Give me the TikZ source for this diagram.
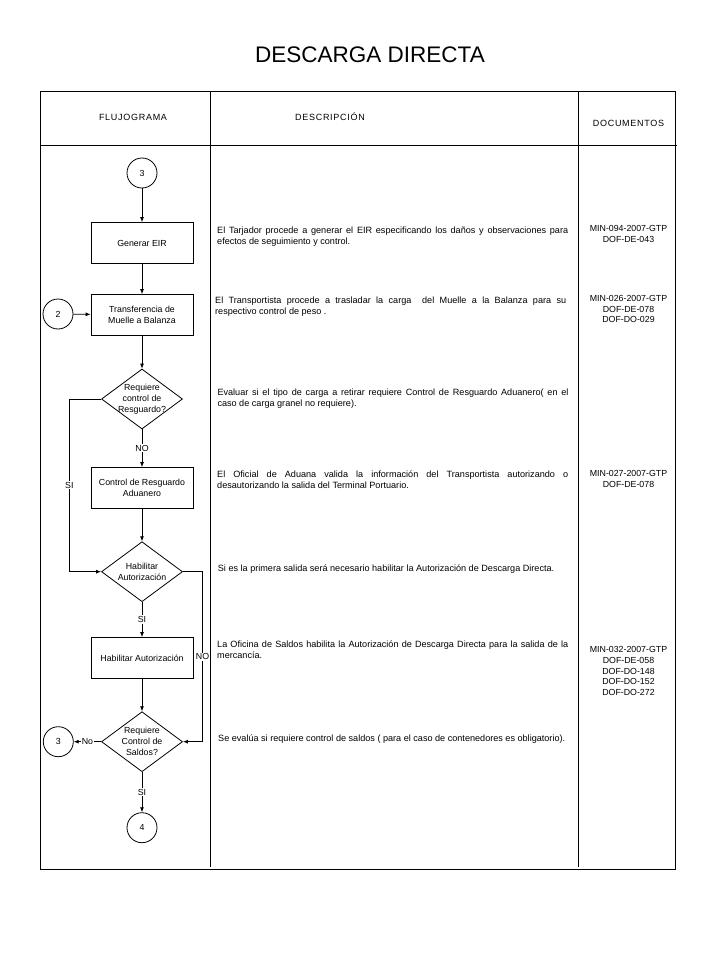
\documentclass[tikz,border=0pt]{standalone}
\usepackage{fontspec}
\setmainfont{Liberation Sans}
\newfontfamily\hdrfont[LetterSpace=8]{Liberation Sans}
\usetikzlibrary{arrows.meta,shapes.geometric}

\begin{document}
\begin{tikzpicture}[>={Latex[length=5pt,width=4pt]},x=1pt,y=-1pt,
	every node/.style={font=\fontsize{8.8}{11}\selectfont},
	proc/.style={draw,line width=0.8pt,minimum width=102pt,minimum height=41pt,
		align=center,inner sep=1pt},
	dec/.style={draw,diamond,line width=0.8pt,minimum width=81pt,
		minimum height=60pt,inner sep=0pt},
	conn/.style={draw,circle,line width=0.8pt,minimum size=30pt,inner sep=0pt},
	lbl/.style={fill=white,inner sep=1pt},
	desc/.style={anchor=west,text width=351pt,align=justify,inner sep=0pt,
		font=\fontsize{9.1}{11}\selectfont},
	descone/.style={anchor=west,inner sep=0pt,font=\fontsize{9.1}{11}\selectfont},
	docs/.style={align=center,inner sep=0pt,font=\fontsize{8.8}{10.8}\selectfont},
	hdr/.style={font=\hdrfont\fontsize{9}{11}\selectfont}]

\useasboundingbox (0,0) rectangle (720,960);

\node (titulo) at (370,55) {\fontsize{22.5}{26}\selectfont DESCARGA DIRECTA};

% tabla
\draw[line width=1pt] (40,91.3) rectangle (675,869);
\draw[line width=1pt] (40,146)--(676.7,146);
\draw[line width=1pt] (210.3,91.3)--(210.3,867);
\draw[line width=1pt] (578.3,91.3)--(578.3,867);

\node[hdr] (hflujo) at (133,117) {FLUJOGRAMA};
\node[hdr] (hdesc) at (330,117) {DESCRIPCIÓN};
\node[hdr] (hdocs) at (628.5,123) {DOCUMENTOS};

% flujograma
\node[conn] (ini) at (142,173) {3};
\node[proc] (eir) at (142,243) {Generar EIR};
\node[proc] (trans) at (142,315) {Transferencia de\\Muelle a Balanza};
\node[conn] (dos) at (58,314) {2};
\node[dec,label={[align=center]center:Requiere\\control de\\Resguardo?}]
	(resg) at (142,399) {};
\node[proc] (ctrl) at (142,488) {Control de Resguardo\\Aduanero};
\node[dec,label={[align=center]center:Habilitar\\Autorización}]
	(habd) at (142,571.7) {};
\node[proc] (hab) at (142,658) {Habilitar Autorización};
\node[dec,label={[align=center]center:Requiere\\Control de\\Saldos?}]
	(sald) at (142,741.7) {};
\node[conn] (tres) at (58.3,741.7) {3};
\node[conn] (cuatro) at (142,827.7) {4};

\begin{scope}[line width=0.8pt]
\draw[->] (ini)--(eir);
\draw[->] (eir)--(trans);
\draw[->] (dos)--(trans);
\draw[->] (trans)--(resg);
\draw[->] (resg)--node[lbl] {NO} (ctrl);
\draw[->] (resg.west)--++(-31.7,0) |- node[lbl,pos=0.25] {SI} (habd.west);
\draw[->] (ctrl)--(habd);
\draw[->] (habd)--node[lbl] {SI} (hab);
\draw[->] (habd.east)--++(19.6,0) |- node[lbl,pos=0.25] {NO} (sald.east);
\draw[->] (hab)--(sald);
\draw[->] (sald)--node[lbl] {No} (tres);
\draw[->] (sald)--node[lbl] {SI} (cuatro);
\end{scope}

% descripcion
\node[desc] (d1) at (217,236.2) {El Tarjador procede a generar el EIR especificando
	los daños y observaciones para\linebreak efectos de seguimiento y control.};
\node[desc] (d2) at (215,306.7) {El Transportista procede a trasladar la carga \ del
	Muelle a la Balanza para su\linebreak respectivo control de peso .};
\node[desc] (d3) at (217.3,398.7) {Evaluar si el tipo de carga a retirar requiere
	Control de Resguardo Aduanero( en el\linebreak caso de carga granel no requiere).};
\node[desc] (d4) at (217,479.2) {El Oficial de Aduana valida la información del
	Transportista autorizando o\linebreak desautorizando la salida del Terminal Portuario.};
\node[descone] (d5) at (217.7,569) {Si es la primera salida será necesario habilitar
	la Autorización de Descarga Directa.};
\node[desc] (d6) at (217,649.2) {La Oficina de Saldos habilita la Autorización de
	Descarga Directa para la salida de la\linebreak mercancía.};
\node[descone] (d7) at (218,739) {Se evalúa si requiere control de saldos ( para el
	caso de contenedores es obligatorio).};

% documentos
\node[docs] (doc1) at (628.5,233.7) {MIN-094-2007-GTP\\DOF-DE-043};
\node[docs] (doc2) at (628.5,309) {MIN-026-2007-GTP\\DOF-DE-078\\DOF-DO-029};
\node[docs] (doc3) at (628.5,478.7) {MIN-027-2007-GTP\\DOF-DE-078};
\node[docs] (doc4) at (628.5,671) {MIN-032-2007-GTP\\DOF-DE-058\\DOF-DO-148\\
	DOF-DO-152\\DOF-DO-272};

\end{tikzpicture}
\end{document}
